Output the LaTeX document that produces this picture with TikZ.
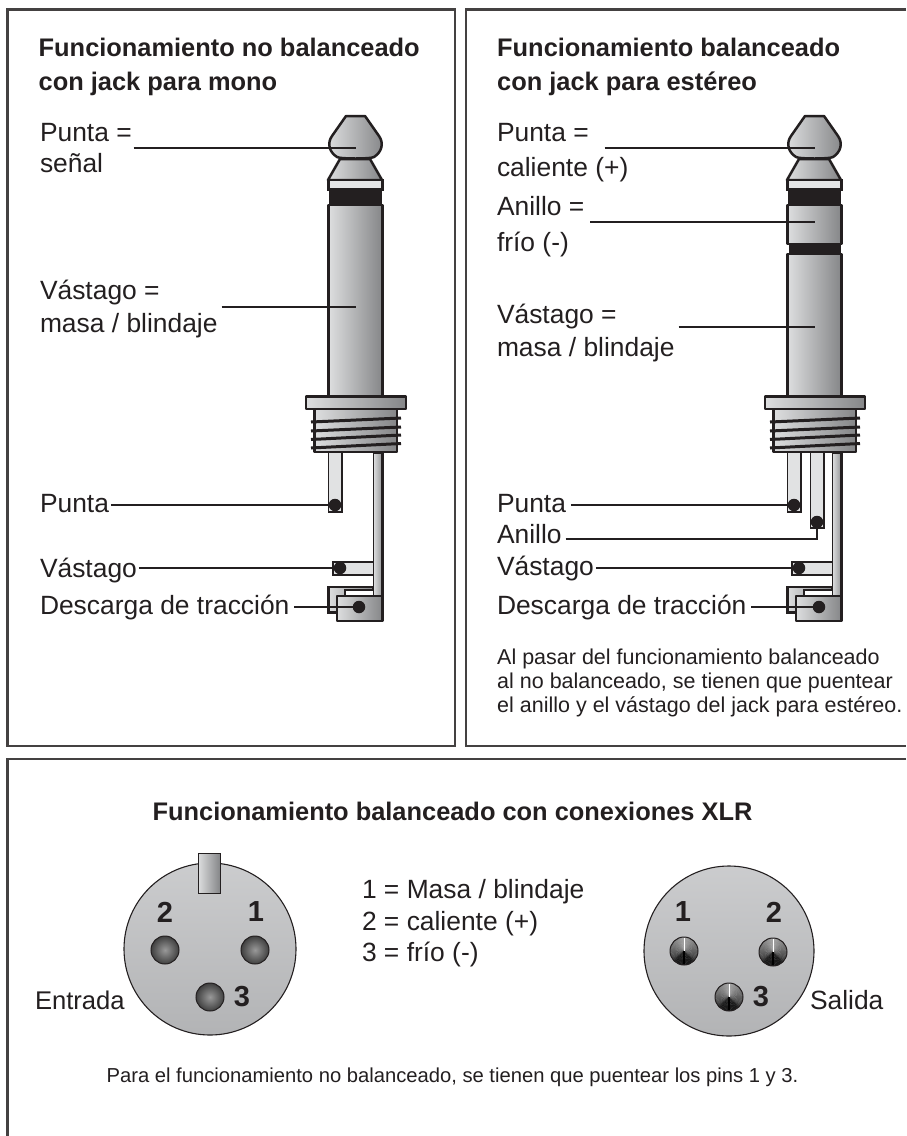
\documentclass[tikz,border=0pt]{standalone}
\usepackage{fontspec}
\setmainfont{Liberation Sans}
\definecolor{ink}{HTML}{231F20}
\definecolor{mlight}{HTML}{DDDEDF}
\definecolor{mdark}{HTML}{858688}
\definecolor{tabfill}{HTML}{E1E2E3}
\definecolor{disc}{HTML}{C2C3C5}
\tikzset{
  frame/.style={draw=ink!85,line width=2.2pt},
  metal/.style={draw=ink,line width=2.5pt,left color=mlight,right color=mdark,line join=round},
  blackband/.style={fill=ink,draw=none},
  threadline/.style={draw=ink,line width=3pt},
  solder/.style={circle,fill=ink,draw=none,minimum size=12.5pt,inner sep=0pt},
  leader/.style={draw=ink,line width=1.6pt},
  lbl/.style={anchor=base west,inner sep=0pt,outer sep=0pt,text=ink,font=\fontsize{26.4}{30}\selectfont},
  ttl/.style={anchor=base west,inner sep=0pt,text=ink,font=\bfseries\fontsize{25.4}{30}\selectfont},
  small/.style={anchor=base west,inner sep=0pt,text=ink,font=\fontsize{21.5}{25}\selectfont},
  pinnum/.style={inner sep=0pt,text=ink,font=\bfseries\fontsize{29}{30}\selectfont},
  pinflat/.style={circle,minimum size=28pt,inner sep=0pt,draw=ink,line width=1pt,shading=radial,inner color=black!40,outer color=black!75},
  discshape/.style={circle,inner sep=0pt,draw=ink,line width=1.1pt,top color=disc!85!white,bottom color=disc!92!black},
}
\newcommand{\jackhead}[1]{%
  \begin{scope}[shift={(#1,0)}]
    \path[metal] (340,159) -- (370,159) -- (382,180) -- (328,180) -- cycle;
    \path[metal] (346,116) -- (365,116) -- (379,136) .. controls (384,143) and (382,152) .. (374,157)
      .. controls (371,159) and (340,159) .. (337,157) .. controls (329,152) and (327,143) .. (332,136) -- cycle;
    \fill[ink] (329,189) rectangle (382,205);
    \path[draw=ink,line width=2.4pt,fill=tabfill!90!white] (328.5,180) rectangle (382.5,189.5);
  \end{scope}}
\newcommand{\jackbase}[1]{%
  \begin{scope}[shift={(#1,0)}]
    \path[metal] (306,396.5) rectangle (406,409);
    \path[metal] (314.5,409) rectangle (397,452);
    \path[threadline] (311,422) -- (401,418);
    \path[threadline] (311,431) -- (401,427);
    \path[threadline] (311,439.5) -- (401,435);
    \path[threadline] (311,448) -- (401,443.5);
    \path[draw=ink,line width=1.2pt,left color=mlight,right color=mdark!90!white] (373.5,453) rectangle (382.5,597);
    \path[draw=ink,line width=2.5pt] (382.5,453) -- (382.5,597);
    \path[draw=ink,line width=2.4pt,fill=tabfill] (373,562) -- (333,562) -- (333,575) -- (373,575);
    \path[draw=ink,line width=2.2pt,left color=mlight,right color=mdark] (373,587) -- (328.5,587) -- (328.5,612.5) -- (345,612.5) -- (345,590) -- (373,590) -- cycle;
    \path[metal] (337,596) rectangle (382.5,621);
  \end{scope}}
\newcommand{\tiptab}[3]{%
  \path[draw=ink,line width=1.3pt,fill=tabfill] (#1,453) -- (#1,#3) -- (#2,#3) -- (#2,453);
  \path[draw=ink,line width=2.4pt] (#2,453) -- (#2,#3);}
\newcommand{\conepin}[2]{%
  \begin{scope}[shift={(#2)}]
    \foreach \a in {0,6,...,354}{
      \pgfmathsetmacro{\t}{acos(cos(\a+3-90))}
      \pgfmathsetmacro{\g}{min(90,35+\t*0.3+max(0,\t-120)*0.6)}
      \fill[black!\g!white] (0,0) -- (\a:14pt) arc[start angle=\a,end angle=\a+7,radius=14pt] -- cycle;
    }
    \draw[white,line width=0.7pt] (0,0) -- (90:13pt);
    \draw[black,line width=1.2pt] (0,0) -- (270:13pt);
  \end{scope}
  \node[circle,minimum size=28pt,inner sep=0pt,draw=ink,line width=1pt] (#1) at (#2) {};}
\begin{document}
\begin{tikzpicture}[x=1pt,y=-1pt]
\useasboundingbox (0,0) rectangle (906,1136);
\fill[white] (0,0) rectangle (906,1136);
\path[frame] (7.5,9.5) rectangle (455,746);
\path[frame] (906,9.5) -- (466,9.5) -- (466,746) -- (906,746);
\path[frame] (906,759) -- (7.5,759) -- (7.5,1136);

\path[metal] (328.5,205) rectangle (382.5,396);
\jackhead{0}
\tiptab{328.5}{342}{512}
\jackbase{0}
\path[metal] (787.5,254) rectangle (841.5,396);
\fill[ink] (789,243) rectangle (841,255);
\path[metal] (787.5,205) rectangle (841.5,244);
\jackhead{459}
\tiptab{787.5}{801}{512}
\tiptab{810.5}{824}{528}
\jackbase{459}

\node[ttl] (tl1) at (38.5,56) {Funcionamiento no balanceado};
\node[ttl] (tl2) at (38.5,90) {con jack para mono};
\node[ttl] (tr1) at (497,56) {Funcionamiento balanceado};
\node[ttl] (tr2) at (497,90) {con jack para estéreo};

\node[lbl] (lp) at (40,141) {Punta =};
\node[lbl] (lp2) at (40,172) {señal};
\node[lbl] (lv) at (40,299) {Vástago =};
\node[lbl] (lv2) at (40,332) {masa / blindaje};
\node[lbl] (lpc) at (40,512) {Punta};
\node[lbl] (lvc) at (40,577) {Vástago};
\node[lbl] (ldc) at (40,614) {Descarga de tracción};
\coordinate (lhead) at (356,148);
\coordinate (lbody) at (356,307);
\node[solder] (ldp) at (335,505) {};
\node[solder] (ldv) at (340,568) {};
\node[solder] (ldd) at (359,607) {};
\draw[leader] ([xshift=2pt]lp.east |- lhead) -- (lhead);
\draw[leader] ([xshift=4pt]lv2.east |- lbody) -- (lbody);
\draw[leader] ([xshift=2pt]lpc.east |- ldp) -- (ldp);
\draw[leader] ([xshift=2pt]lvc.east |- ldv) -- (ldv);
\draw[leader] ([xshift=5pt]ldc.east |- ldd) -- (ldd);

\node[lbl] (rp) at (497,141) {Punta =};
\node[lbl] (rp2) at (497,176) {caliente (+)};
\node[lbl] (ra) at (497,215) {Anillo =};
\node[lbl] (ra2) at (497,251) {frío (-)};
\node[lbl] (rv) at (497,323) {Vástago =};
\node[lbl] (rv2) at (497,356) {masa / blindaje};
\node[lbl] (rpc) at (497,512) {Punta};
\node[lbl] (rac) at (497,543) {Anillo};
\node[lbl] (rvc) at (497,575) {Vástago};
\node[lbl] (rdc) at (497,614) {Descarga de tracción};
\coordinate (rhead) at (815,148);
\coordinate (rring) at (815,222);
\coordinate (rbody) at (815,327);
\coordinate (rknee) at (817,539);
\node[solder] (rdp) at (794,505) {};
\node[solder] (rda) at (817,522) {};
\node[solder] (rdv) at (799,568) {};
\node[solder] (rdd) at (819,607) {};
\draw[leader] ([xshift=16pt]rp.east |- rhead) -- (rhead);
\draw[leader] ([xshift=6pt]ra.east |- rring) -- (rring);
\draw[leader] ([xshift=4pt]rv2.east |- rbody) -- (rbody);
\draw[leader] ([xshift=5pt]rpc.east |- rdp) -- (rdp);
\draw[leader] ([xshift=4pt]rac.east |- rknee) -- (rknee) -- (rda);
\draw[leader] ([xshift=2pt]rvc.east |- rdv) -- (rdv);
\draw[leader] ([xshift=5pt]rdc.east |- rdd) -- (rdd);

\node[small] (n1) at (497,664) {Al pasar del funcionamiento balanceado};
\node[small] (n2) at (497,688) {al no balanceado, se tienen que puentear};
\node[small] (n3) at (497,712) {el anillo y el vástago del jack para estéreo.};

\node[ttl,anchor=base] (bt) at (452.5,820) {Funcionamiento balanceado con conexiones XLR};
\node[discshape,minimum size=172pt] (xl) at (210,949) {};
\path[draw=ink,line width=1pt,left color=mlight,right color=mdark] (198,853) rectangle (220,893);
\node[pinflat] (pl2) at (165,950) {};
\node[pinflat] (pl1) at (255,950) {};
\node[pinflat] (pl3) at (210,997) {};
\node[pinnum] (nl2) at (165,912) {2};
\node[pinnum] (nl1) at (256,912) {1};
\node[pinnum] (nl3) at (242,997) {3};

\node[discshape,minimum size=170pt] (xr) at (729,951) {};
\conepin{pr1}{684,951}
\conepin{pr2}{773,952}
\conepin{pr3}{729,997}
\node[pinnum] (nr1) at (683,912) {1};
\node[pinnum] (nr2) at (774,912) {2};
\node[pinnum] (nr3) at (761,997) {3};

\node[lbl] (k1) at (362,898) {1 = Masa / blindaje};
\node[lbl] (k2) at (362,930) {2 = caliente (+)};
\node[lbl] (k3) at (362,961) {3 = frío (-)};
\node[lbl,font=\fontsize{25.6}{30}\selectfont] (en) at (35,1009) {Entrada};
\node[lbl] (sa) at (810,1009) {Salida};
\node[small,anchor=base,font=\fontsize{20.2}{24}\selectfont] (foot) at (452.5,1082) {Para el funcionamiento no balanceado, se tienen que puentear los pins 1 y 3.};
\end{tikzpicture}
\end{document}
